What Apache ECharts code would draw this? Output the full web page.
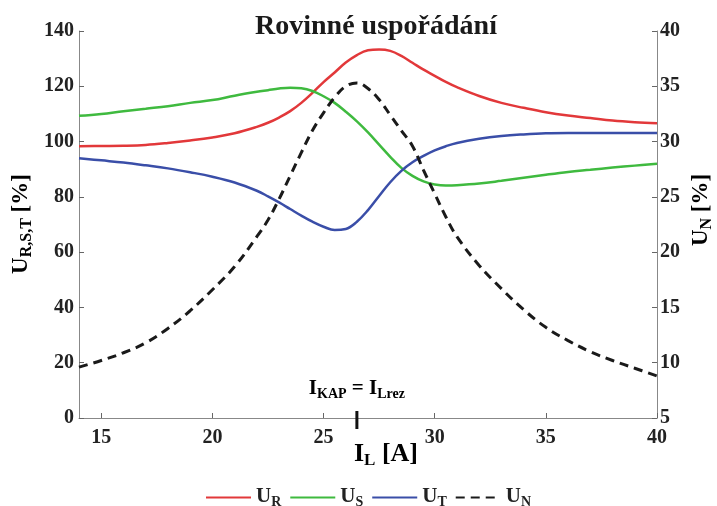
<!DOCTYPE html>
<html><head><meta charset="utf-8">
<script src="https://cdn.jsdelivr.net/npm/echarts@6/dist/echarts.min.js"></script>
<style>html,body{margin:0;padding:0;background:#fff}#c{width:717px;height:506px}</style>
</head><body><div id="c"></div>
<script>
// Load current I_L [A]
const currentA = [14,15,16,17,18,19,20,21,22,22.5,23,23.5,24,24.5,25,25.5,26,26.5,27,27.5,28,28.5,29,29.5,30,30.5,31,32,33,34,35,36,37,38,39,40];
// Phase voltages [%] (left axis)
const uR = [98.3,98.4,98.5,98.8,99.5,100.4,101.5,103,105.3,106.8,108.7,111,114,117.6,121.5,125,128.6,131.3,133,133.3,132.8,131,128.5,126,123.8,121.6,119.7,116.5,114,112.2,110.6,109.4,108.5,107.6,107,106.6];
const uS = [109.3,110,111,111.9,112.8,114,115,116.6,118,118.6,119.2,119.5,119.3,118.3,116.4,114,110.8,107.3,103.3,98.9,94.5,90.5,87.6,85.6,84.5,84.1,84.2,84.8,85.8,86.9,88,89,89.8,90.6,91.3,92];
const uT = [94,93.2,92.4,91.4,90.3,88.9,87.3,85.2,82.2,80.2,78,75.6,73.2,71,69.2,68,68.4,71,75.2,80.3,85.3,89.4,92.5,94.8,96.8,98.3,99.5,101,102,102.6,103,103.1,103.1,103.1,103.1,103.1];
// Neutral voltage [%] (right axis)
const uN = [9.6,10.2,10.9,11.8,13.1,14.7,16.6,18.7,21.4,22.9,24.8,26.9,29,31,32.6,34,35,35.3,34.8,33.8,32.4,31,29.6,27.4,25.3,23.2,21.4,18.8,16.7,14.8,13.2,12,11,10.2,9.5,8.8];
// Axis ticks
const xTicks = [15,20,25,30,35,40];
// Resonance current marker
const resonanceCurrent = 26.5;

const serif = "'Liberation Serif','Times New Roman',serif";
const pair = arr => currentA.map((x, i) => [x, arr[i]]);

const subRich = (big, small) => ({
  m: {fontFamily: serif, fontWeight: 'bold', fontSize: big, color: '#222', lineHeight: big + 2, verticalAlign: 'top'},
  s: {fontFamily: serif, fontWeight: 'bold', fontSize: small, color: '#222', lineHeight: small, verticalAlign: 'bottom', padding: [Math.round(big * 0.55), 0, 0, 0]}
});

const chart = echarts.init(document.getElementById('c'));

const lineSeries = (name, arr, color, axis, dashed) => ({
  name, type: 'line', data: pair(arr), yAxisIndex: axis,
  smooth: 0.4, symbol: 'none',
  lineStyle: {color, width: dashed ? 3 : 2.5, type: dashed ? [9, 6] : 'solid'},
  itemStyle: {color},
  z: dashed ? 3 : 2
});

chart.setOption({
  animation: false,
  backgroundColor: '#fff',
  title: {
    text: 'Rovinné uspořádání', left: 250, top: 8,
    textStyle: {fontFamily: serif, fontWeight: 'bold', fontSize: 28, color: '#1a1a1a'}
  },
  grid: {left: 79, right: 60, top: 31, bottom: 88},
  xAxis: {
    type: 'value', min: 14, max: 40,
    axisLine: {lineStyle: {color: '#888', width: 1}},
    axisTick: {inside: true, length: 5, customValues: xTicks, lineStyle: {color: '#666'}},
    axisLabel: {customValues: xTicks, margin: 10, fontFamily: serif, fontWeight: 'bold', fontSize: 20, color: '#222'},
    splitLine: {show: false}
  },
  yAxis: [{
    type: 'value', min: 0, max: 140, interval: 20,
    axisLine: {show: true, lineStyle: {color: '#888', width: 1}},
    axisTick: {show: true, inside: true, length: 5, lineStyle: {color: '#666'}},
    axisLabel: {margin: 5, fontFamily: serif, fontWeight: 'bold', fontSize: 20, color: '#222'},
    splitLine: {show: false}
  }, {
    type: 'value', min: 5, max: 40, interval: 5, position: 'right',
    axisLine: {show: true, lineStyle: {color: '#888', width: 1}},
    axisTick: {show: true, inside: true, length: 5, lineStyle: {color: '#666'}},
    axisLabel: {margin: 3, fontFamily: serif, fontWeight: 'bold', fontSize: 20, color: '#222'},
    splitLine: {show: false}
  }],
  legend: {
    top: 478, left: 200, itemWidth: 45, itemHeight: 10, itemGap: 8,
    itemStyle: {opacity: 0},
    data: ['U_R', 'U_S', 'U_T', 'U_N'],
    formatter: n => '{m|U}{s|' + n.split('_')[1] + '}',
    textStyle: {rich: subRich(21, 14)}
  },
  series: [
    lineSeries('U_R', uR, '#e2383a', 0, false),
    lineSeries('U_S', uS, '#3fba3f', 0, false),
    lineSeries('U_T', uT, '#3a4ea8', 0, false),
    lineSeries('U_N', uN, '#1a1a1a', 1, true)
  ]
});

const tickPx = chart.convertToPixel({xAxisIndex: 0, yAxisIndex: 0}, [resonanceCurrent, 0]);

chart.setOption({
  graphic: [
    {type: 'line', shape: {x1: tickPx[0], y1: tickPx[1] - 7, x2: tickPx[0], y2: tickPx[1] + 11}, style: {stroke: '#111', lineWidth: 3}, z: 10},
    {type: 'text', x: tickPx[0], y: 378, style: {text: '{m|I}{s|KAP}{m| = I}{s|Lrez}', align: 'center', rich: subRich(21, 14)}},
    {type: 'text', x: 386, y: 441, style: {text: '{m|I}{s|L}{m| [A]}', align: 'center', rich: subRich(26, 17)}},
    {type: 'text', x: 10, y: 224, rotation: Math.PI / 2, style: {text: '{m|U}{s|R,S,T}{m| [%]}', align: 'center', rich: subRich(23, 16)}},
    {type: 'text', x: 690, y: 210, rotation: Math.PI / 2, style: {text: '{m|U}{s|N}{m| [%]}', align: 'center', rich: subRich(23, 16)}}
  ]
});
</script>
</body></html>
